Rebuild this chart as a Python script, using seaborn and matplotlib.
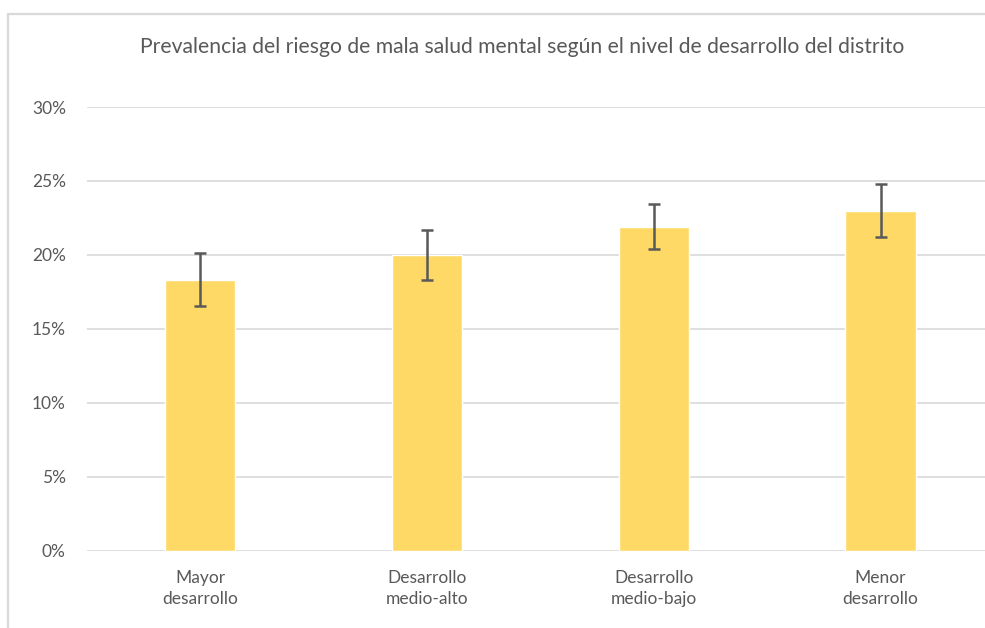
# import libraries
import pandas as pd
import matplotlib.pyplot as plt
from matplotlib.ticker import PercentFormatter
from matplotlib.lines import Line2D
import seaborn as sns

# Data
niveles = ["Mayor\ndesarrollo", "Desarrollo\nmedio-alto", "Desarrollo\nmedio-bajo", "Menor\ndesarrollo"]
prevalencia = [0.183, 0.200, 0.219, 0.230]
ic_inferior = [0.1655, 0.1833, 0.2038, 0.2119]
ic_superior = [0.2013, 0.2165, 0.2343, 0.2480]

df = pd.DataFrame({"nivel": niveles, "prevalencia": prevalencia})

# style settings
sns.set_theme(style="white")
plt.rcParams["font.family"] = ["Lato", "DejaVu Sans"]
gris_texto = "#595959"
gris_linea = "#d9d9d9"

fig = plt.figure(figsize=(9.85, 6.28), dpi=100)
ax = fig.add_axes([86.7 / 985, 77.3 / 628, 907.3 / 985, 443.7 / 628])

sns.barplot(data=df, x="nivel", y="prevalencia", color="#FFD966",
            saturation=1, width=0.31, errorbar=None, ax=ax, zorder=3)

# error bars (confidence intervals)
x_pos = range(len(niveles))
err = [[p - lo for p, lo in zip(prevalencia, ic_inferior)],
       [hi - p for p, hi in zip(prevalencia, ic_superior)]]
ax.errorbar(x_pos, prevalencia, yerr=err, fmt="none", ecolor=gris_texto,
            elinewidth=1.8, capsize=4.3, capthick=1.8, zorder=4)

# axes formatting
ax.set_xlim(-0.5, 3.5)
ax.set_ylim(0, 0.30)
ax.set_yticks([0, 0.05, 0.10, 0.15, 0.20, 0.25, 0.30])
ax.yaxis.set_major_formatter(PercentFormatter(1.0, decimals=0))
ax.set_xlabel("")
ax.set_ylabel("")
ax.grid(axis="y", color=gris_linea, linewidth=1.2, zorder=0)
ax.set_axisbelow(True)
for s in ax.spines.values():
    s.set_visible(False)
ax.tick_params(axis="both", length=0, colors=gris_texto, labelsize=12.5)
ax.tick_params(axis="y", pad=15)
ax.tick_params(axis="x", pad=14)
for lbl in ax.get_xticklabels():
    lbl.set_linespacing(1.35)

# title
fig.text(522 / 985, 1 - 47 / 628,
         "Prevalencia del riesgo de mala salud mental según el nivel de desarrollo del distrito",
         ha="center", va="center", fontsize=15.2, color=gris_texto)

# chart frame (left and top edges visible)
fig.add_artist(Line2D([7.5 / 985, 7.5 / 985], [0, 1 - 13.5 / 628],
                      color=gris_linea, linewidth=1.6, transform=fig.transFigure))
fig.add_artist(Line2D([7.5 / 985, 1], [1 - 13.5 / 628, 1 - 13.5 / 628],
                      color=gris_linea, linewidth=1.6, transform=fig.transFigure))

fig.savefig("out.png", dpi=100)
plt.close(fig)
